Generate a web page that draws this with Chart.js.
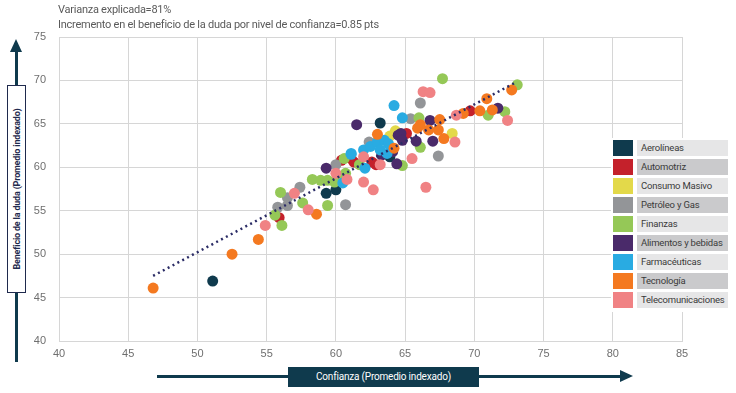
<!DOCTYPE html>
<html>
<head>
<meta charset="utf-8">
<script src="https://cdn.jsdelivr.net/npm/chart.js@4.4.1/dist/chart.umd.min.js"></script>
<style>
  body { margin: 0; background: #fff; }
  #wrap { position: relative; width: 736px; height: 393px; overflow: hidden; font-family: Roboto, "Liberation Sans", sans-serif; }
  #chart { position: absolute; left: 0; top: 0; }
  #note { position: absolute; left: 58px; top: 2px; font-size: 11px; line-height: 15px; color: #5a5a5a; letter-spacing: -0.25px; }
  #legend { position: absolute; left: 611px; top: 138px; width: 119px; background: #fff; padding: 2px 0 1px 2px; }
  .row { display: flex; height: 16px; margin-bottom: 3px; }
  .sw { width: 20px; height: 16px; }
  .lb { margin-left: 4px; width: 91px; height: 16px; font-size: 9.5px; line-height: 16px; color: #3a3a3a; padding-left: 4px; box-sizing: border-box; letter-spacing: -0.2px; white-space: nowrap; }
  #yline { position: absolute; left: 15px; top: 50px; width: 3px; height: 312px; background: #0f3a4d; }
  #yhead { position: absolute; left: 10px; top: 39px; width: 0; height: 0; border-left: 6.5px solid transparent; border-right: 6.5px solid transparent; border-bottom: 13px solid #0f3a4d; }
  #ybox { position: absolute; left: 7px; top: 85px; width: 19px; height: 208px; background: #fff; border: 1.5px solid #1f2a4d; box-sizing: border-box; }
  #ybox span { position: absolute; left: 50%; top: 50%; transform: translate(-50%, -50%) rotate(-90deg); white-space: nowrap; font-size: 9px; font-weight: bold; color: #1f2a4d; letter-spacing: -0.2px; }
  #xline { position: absolute; left: 157px; top: 375px; width: 465px; height: 3px; background: #0f3a4d; }
  #xhead { position: absolute; left: 620px; top: 370px; width: 0; height: 0; border-top: 6.5px solid transparent; border-bottom: 6.5px solid transparent; border-left: 13px solid #0f3a4d; }
  #xbox { position: absolute; left: 288px; top: 367px; width: 191px; height: 20px; background: #0f3a4d; color: #fff; font-size: 10px; line-height: 20px; text-align: center; letter-spacing: -0.2px; }
</style>
</head>
<body>
<div id="wrap">
  <canvas id="chart" width="736" height="393"></canvas>
  <div id="note">Varianza explicada=81%<br>Incremento en el beneficio de la duda por nivel de confianza=0.85 pts</div>
  <div id="yline"></div><div id="yhead"></div>
  <div id="ybox"><span>Beneficio de la duda (Promedio indexado)</span></div>
  <div id="xline"></div><div id="xhead"></div>
  <div id="xbox">Confianza (Promedio indexado)</div>
  <div id="legend"></div>
</div>
<script>
const sectors = ['Aerolíneas', 'Automotriz', 'Consumo Masivo', 'Petróleo y Gas', 'Finanzas',
  'Alimentos y bebidas', 'Farmacéuticas', 'Tecnología', 'Telecomunicaciones'];
const colors = ['#0f3a4d', '#c4212b', '#e3d94a', '#939598', '#95c857', '#4a2a6a', '#29abe2', '#f47920', '#f08284'];

// [confianza, beneficio de la duda]
const aerolineas = [[51.1, 46.9], [59.3, 57.0], [60.0, 57.4], [63.2, 65.1], [63.9, 61.2]];
const automotriz = [[55.9, 54.2], [60.4, 60.8], [61.1, 61.0], [61.3, 60.6], [62.6, 60.6], [62.9, 60.3], [65.1, 63.9], [69.7, 66.5]];
const consumo = [[63.9, 63.6], [64.3, 64.2], [68.4, 63.9]];
const petroleo = [[55.8, 55.4], [56.5, 55.6], [56.5, 56.5], [57.4, 57.7], [60.0, 60.3], [60.7, 55.7], [62.4, 62.9], [65.4, 65.6], [66.1, 67.4], [67.4, 61.3]];
const finanzas = [[55.6, 54.5], [56.1, 53.3], [56.0, 57.1], [57.6, 55.9], [58.3, 58.6], [58.9, 58.5], [59.4, 58.5], [59.4, 55.6],
  [59.9, 58.3], [60.5, 58.5], [60.6, 61.0], [60.7, 59.3], [61.7, 60.3], [64.8, 60.2], [66.0, 65.7], [66.1, 62.3],
  [67.7, 70.2], [71.0, 66.0], [72.2, 66.4], [73.1, 69.5]];
const alimentos = [[59.3, 59.9], [61.5, 64.9], [63.3, 61.4], [64.1, 61.8], [64.4, 60.4], [64.5, 63.7], [64.7, 63.9], [64.8, 63.1],
  [65.8, 63.0], [66.8, 65.4], [67.0, 63.0], [71.7, 66.8]];
const farmaceuticas = [[60.5, 58.2], [61.1, 61.5], [62.0, 62.0], [62.1, 59.9], [62.5, 62.4], [63.0, 62.9], [63.5, 63.1], [63.8, 62.7],
  [63.2, 62.0], [63.7, 61.6], [64.2, 67.1], [64.8, 65.7], [61.1, 61.6]];
const tecnologia = [[46.8, 46.1], [52.5, 50.0], [54.4, 51.7], [58.6, 54.6], [63.0, 63.8], [64.2, 62.2], [65.9, 64.5], [66.1, 64.9],
  [66.7, 64.3], [67.4, 64.3], [67.5, 65.5], [67.8, 63.3], [69.2, 66.2], [70.4, 66.5], [71.3, 66.6], [70.9, 67.9], [72.7, 68.9]];
const telecom = [[54.9, 53.3], [57.0, 57.0], [58.0, 55.1], [60.0, 59.3], [60.8, 58.6], [62.0, 61.2], [62.0, 58.3], [62.7, 57.4],
  [63.2, 60.3], [65.5, 61.0], [66.3, 68.7], [66.8, 68.6], [66.5, 57.7], [68.6, 62.9], [68.7, 66.0], [72.4, 65.4]];

const series = [aerolineas, automotriz, consumo, petroleo, finanzas, alimentos, farmaceuticas, tecnologia, telecom];

// linea de tendencia
const trendX = [46.8, 72.9];
const trendY = [47.5, 69.7];

const xTicks = [40, 45, 50, 55, 60, 65, 70, 75, 80, 85];
const yTicks = [40, 45, 50, 55, 60, 65, 70, 75];

// later sectors drawn on top, like the original
const datasets = series.map((pts, i) => ({
  type: 'scatter',
  label: sectors[i],
  data: pts.map(p => ({ x: p[0], y: p[1] })),
  backgroundColor: colors[i],
  borderWidth: 0,
  pointRadius: 5.5,
  order: series.length - i + 1
}));

datasets.push({
  type: 'line',
  label: 'Tendencia',
  data: trendX.map((x, i) => ({ x: x, y: trendY[i] })),
  borderColor: '#2b2c66',
  borderWidth: 2.5,
  borderDash: [2, 3.5],
  pointRadius: 0,
  fill: false,
  order: 0
});

const tickFont = { family: '"Liberation Sans", Arial, sans-serif', size: 11 };

new Chart(document.getElementById('chart'), {
  type: 'scatter',
  data: { datasets: datasets },
  options: {
    responsive: false,
    animation: false,
    devicePixelRatio: 1,
    layout: { padding: { top: 37, right: 54, left: 0, bottom: 0 } },
    plugins: { legend: { display: false }, tooltip: { enabled: false } },
    scales: {
      x: {
        type: 'linear', min: 40, max: 85,
        afterBuildTicks: s => { s.ticks = xTicks.map(v => ({ value: v })); },
        afterFit: s => { s.height = 52; },
        grid: { color: '#d6d6d6', drawTicks: false },
        border: { color: '#d6d6d6' },
        ticks: { color: '#6f6f6f', font: tickFont, padding: 6 }
      },
      y: {
        type: 'linear', min: 40, max: 75,
        afterBuildTicks: s => { s.ticks = yTicks.map(v => ({ value: v })); },
        afterFit: s => { s.width = 59; },
        grid: { color: '#d6d6d6', drawTicks: false },
        border: { color: '#d6d6d6' },
        ticks: { color: '#6f6f6f', font: tickFont, padding: 13 }
      }
    }
  }
});

const legend = document.getElementById('legend');
sectors.forEach((name, i) => {
  const row = document.createElement('div');
  row.className = 'row';
  row.innerHTML = '<div class="sw" style="background:' + colors[i] + '"></div>' +
    '<div class="lb" style="background:' + (i % 2 ? '#cacacc' : '#e6e6e7') + '">' + name + '</div>';
  legend.appendChild(row);
});
</script>
</body>
</html>
